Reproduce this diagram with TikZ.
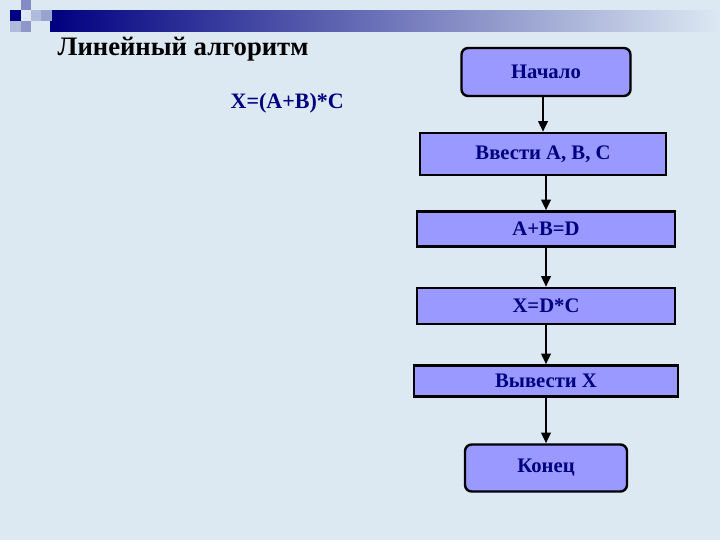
\documentclass[tikz,border=0pt]{standalone}
\usepackage{fontspec}
\setmainfont{Liberation Serif}
\usetikzlibrary{positioning,arrows.meta}
\definecolor{bg}{HTML}{DCE8F2}
\definecolor{boxfill}{HTML}{9999FF}
\definecolor{navy}{HTML}{000080}
\begin{document}
\begin{tikzpicture}[x=0.75pt,y=-0.75pt]
\tikzstyle{blk}=[draw, line width=1.8pt, fill=boxfill, text=navy, font=\bfseries\fontsize{15.5}{18}\selectfont]
\tikzstyle{term}=[blk, rounded corners=5pt]
\tikzstyle{arr}=[line width=1.8pt, -{Triangle[length=8pt,width=7pt]}]
\fill[bg] (0,0) rectangle (720,540);
\useasboundingbox (0,0) rectangle (720,540);
% header decoration
\shade[left color=navy, right color=bg] (50,10) rectangle (720,31);
\fill[navy] (10,10) rectangle (21,21);
\fill[navy!40!bg] (21,0) rectangle (31,10);
\fill[navy!30!bg] (41,10) rectangle (52,21);
\fill[navy!35!bg] (21,21) rectangle (31,32);
\fill[navy!20!bg] (10,21) rectangle (21,32);
\fill[navy!20!bg] (31,10) rectangle (41,21);
% texts
\node[anchor=west, font=\bfseries\fontsize{20}{24}\selectfont] (title) at (53,49) {Линейный алгоритм};
\node[anchor=west, text=navy, font=\bfseries\fontsize{16.5}{20}\selectfont] (formula) at (226,103) {X=(A+B)*C};
% flowchart
\node[term, minimum width=126.75pt, minimum height=36pt] (start) at (546,72) {Начало};
\node[blk, minimum width=184.5pt, minimum height=31.5pt] (input) at (543,154) {Ввести A, B, C};
\node[blk, minimum width=193.5pt, minimum height=26.25pt] (sum) at (546,229) {A+B=D};
\node[blk, minimum width=193.5pt, minimum height=27pt] (prod) at (546,306) {X=D*C};
\node[blk, minimum width=198pt, minimum height=23.25pt] (output) at (546,381) {Вывести X};
\node[term, minimum width=121.5pt, minimum height=35.25pt] (stop) at (546,468) {Конец};

\draw[arr] (start.south -| 543,0) -- (input.north -| 543,0);
\draw[arr] (input.south -| 546,0) -- (sum);
\draw[arr] (sum) -- (prod);
\draw[arr] (prod) -- (output);
\draw[arr] (output) -- (stop);
\end{tikzpicture}
\end{document}
